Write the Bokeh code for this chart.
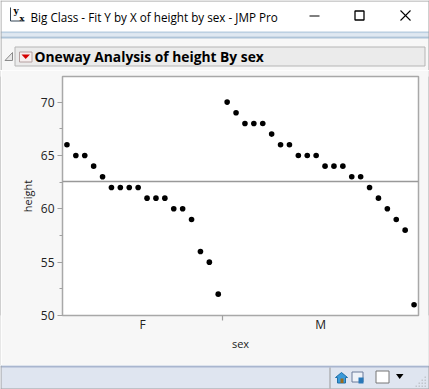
from bokeh.plotting import figure
from bokeh.models import Range1d, FixedTicker, Span
from bokeh.layouts import column, row
from bokeh.core.properties import value
from bokeh.embed import file_html
from bokeh.resources import INLINE

female_heights = [66, 65, 65, 64, 63, 62, 62, 62, 62, 61, 61, 61, 60, 60, 59, 56, 55, 52]
male_heights = [70, 69, 68, 68, 68, 67, 66, 66, 65, 65, 65, 64, 64, 64, 63, 63, 62, 61, 60, 59, 58, 51]
categories = ["F", "M"]
y_ticks = [50, 55, 60, 65, 70]
y_minor_ticks = [52.5, 57.5, 62.5, 67.5, 72.5]
mean_height = 62.55

W, H = 429, 389
TOP, BOTTOM = 70, 365
heights = female_heights + male_heights
n, nf = len(heights), len(female_heights)
xs = [i + 0.5 for i in range(n)]

GREY = "#a0a0a0"
FONT = "Open Sans"
TEXT = "#222222"
PANEL = "#f7f7f7"

p = figure(width=W - 2, height=BOTTOM - TOP, output_backend="svg", toolbar_location=None,
           x_range=Range1d(0, n), y_range=Range1d(50, 72.4),
           min_border_left=61, min_border_right=10, min_border_top=6, min_border_bottom=50,
           background_fill_color="white", border_fill_color=PANEL,
           outline_line_color="#a8a8a8", outline_line_width=1.5)
p.grid.visible = False

xa = p.xaxis[0]
xa.ticker = FixedTicker(ticks=[nf / 2, nf + (n - nf) / 2], minor_ticks=[nf])
xa.major_label_overrides = {nf / 2: categories[0], nf + (n - nf) / 2: categories[1]}
xa.major_tick_line_color = None
xa.major_tick_in = 0
xa.major_tick_out = 0
xa.minor_tick_line_color = GREY
xa.minor_tick_line_width = 1.2
xa.minor_tick_in = 0
xa.minor_tick_out = 5
xa.axis_line_color = None
xa.major_label_standoff = -5
xa.major_label_text_font = FONT
xa.major_label_text_font_size = "12px"
xa.major_label_text_color = TEXT
xa.axis_label = "sex"
xa.axis_label_standoff = 0
xa.axis_label_text_font = FONT
xa.axis_label_text_font_style = "normal"
xa.axis_label_text_font_size = "11px"
xa.axis_label_text_color = TEXT

ya = p.yaxis[0]
ya.ticker = FixedTicker(ticks=y_ticks, minor_ticks=y_minor_ticks)
ya.axis_line_color = None
ya.major_tick_line_color = GREY
ya.major_tick_line_width = 1.2
ya.major_tick_in = 0
ya.major_tick_out = 5
ya.minor_tick_line_color = GREY
ya.minor_tick_in = 0
ya.minor_tick_out = 3
ya.major_label_standoff = 3
ya.major_label_text_font = FONT
ya.major_label_text_font_size = "12px"
ya.major_label_text_color = TEXT
ya.axis_label = "height"
ya.axis_label_standoff = 3
ya.axis_label_text_font = FONT
ya.axis_label_text_font_style = "normal"
ya.axis_label_text_font_size = "11px"
ya.axis_label_text_color = TEXT

p.add_layout(Span(location=mean_height, dimension="width", line_color="#999999", line_width=1.5))
p.scatter(xs, heights, size=5.6, color="black", line_width=0)


def band(y0, y1, w=W, bg=PANEL):
    f = figure(width=w, height=y1 - y0, output_backend="svg", toolbar_location=None,
               x_range=Range1d(0, w), y_range=Range1d(y1, y0),
               min_border=0, background_fill_color=bg, border_fill_color=bg,
               outline_line_color=None)
    f.axis.visible = False
    f.grid.visible = False
    return f


def box(f, l, t, r, b, fill=None, line=None, lw=1.0):
    f.quad(left=[l], right=[r], top=[t], bottom=[b],
           fill_color=fill, fill_alpha=1 if fill else 0,
           line_color=line, line_alpha=1 if line else 0, line_width=lw)


def poly(f, pts, fill=None, line=None, lw=1.0):
    f.patch([a for a, _ in pts], [b for _, b in pts],
            fill_color=fill, fill_alpha=1 if fill else 0,
            line_color=line, line_alpha=1 if line else 0, line_width=lw)


def label(f, x, y, text, size, style="normal", color="#000000", font=FONT):
    f.text([x], [y], text=[text], text_font=value(font), text_font_size=value(size),
           text_font_style=style, text_color=color, text_align="left", text_baseline="middle")


# title bar and section header
t = band(0, TOP)
box(t, 0, 0, W, 31, fill="white")
box(t, 0, 31, W, 33, fill="#bcd0e2")
box(t, 0, 33, W, 36, fill="#dfe8f1")
box(t, 0, 36, W, 38, fill="#aec4d8")
box(t, 0, 0, W, 1, fill=GREY)
box(t, 0, 0, 1, TOP, fill=GREY)
box(t, W - 1, 0, W, TOP, fill=GREY)
label(t, 30, 16, "Big Class - Fit Y by X of height by sex - JMP Pro", "11.7px")
label(t, 13, 10, "y", "9px", style="bold", font="DejaVu Serif")
label(t, 19, 17, "x", "8px", style="bold", font="DejaVu Serif")
t.line([10, 10, 24], [7, 20.5, 20.5], line_color="#334455", line_width=1)
box(t, 309, 15, 319, 16, fill="black")
box(t, 354.5, 10.5, 363.5, 19.5, line="black", lw=1.3)
t.line([400, 410], [10, 20], line_color="black", line_width=1.1)
t.line([400, 410], [20, 10], line_color="black", line_width=1.1)
box(t, 14.5, 46.5, 424.5, 65.5, fill="#ebebeb", line="#b5b5b5")
poly(t, [(4.5, 60), (12, 52), (12, 60)], fill="#e8e8e8", line="#8a8a8a")
box(t, 19, 51.5, 31.5, 61.5, fill="#f6eeee", line="#b5a0a0")
poly(t, [(21, 54), (29.5, 54), (25.2, 58.5)], fill="#d40000")
label(t, 34, 56, "Oneway Analysis of height By sex", "13.8px", style="bold")

# window edges beside the plot
left = band(TOP, BOTTOM, w=1, bg=GREY)
right = band(TOP, BOTTOM, w=1, bg=GREY)

# status bar
s = band(BOTTOM, H, bg="#dfe5f0")
box(s, 0, BOTTOM, W, BOTTOM + 2, fill="#a9b6cf")
box(s, 0, H - 1, W, H, fill=GREY)
box(s, 0, BOTTOM, 1, H, fill=GREY)
box(s, W - 1, BOTTOM, W, H, fill=GREY)
box(s, 329, BOTTOM + 2, 330, H - 1, fill="#9a9a9a")
poly(s, [(335, 377), (341, 372), (347, 377), (345, 377), (345, 382.5), (337, 382.5), (337, 377)],
     fill="#3a9ad9", line="#1f6fa8")
box(s, 340, 378, 343, 382.5, fill="#9a6a1c")
box(s, 351.5, 371.5, 362.5, 381.5, fill="#eef2f8", line="#6a7a9a")
poly(s, [(358, 377), (363, 377), (363, 383), (358, 383)], fill="#2a78b8")
box(s, 375.5, 370.5, 388.5, 382.5, fill="white", line="#777777")
poly(s, [(395.5, 373.5), (403, 373.5), (399.2, 378.5)], fill="black")
for gx, gy in [(424, 376), (424, 379), (421, 379), (424, 382), (421, 382), (418, 382),
               (424, 385), (421, 385), (418, 385), (415, 385)]:
    box(s, gx, gy, gx + 1.5, gy + 1.5, fill="#c2c6cc")

layout = column(t, row(left, p, right, spacing=0), s, spacing=0)
open("out.html", "w").write(file_html(layout, INLINE))
